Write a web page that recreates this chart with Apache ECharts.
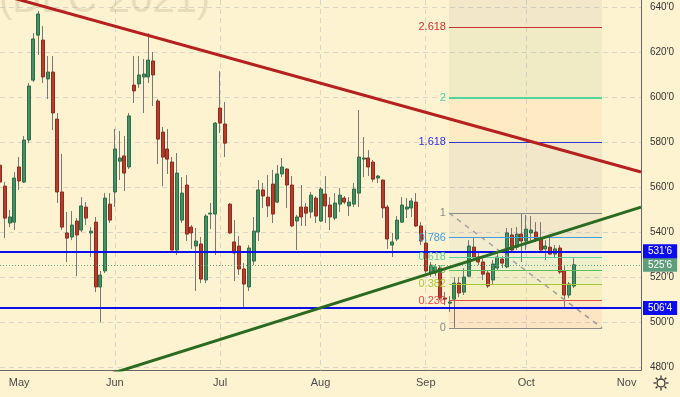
<!DOCTYPE html>
<html><head><meta charset="utf-8">
<script src="https://cdn.jsdelivr.net/npm/echarts@6/dist/echarts.min.js"></script>
<style>html,body{margin:0;padding:0;background:#fef3d0}#c{width:680px;height:397px}</style>
</head><body><div id="c"></div>
<script>
// ---- categories (trading days) ----
const startDate = '2021-04-27';
const holidays = ['2021-05-31', '2021-07-05', '2021-09-06'];
const totalBars = 135;
const monthNames = ['Jan','Feb','Mar','Apr','May','Jun','Jul','Aug','Sep','Oct','Nov','Dec'];

// ---- OHLC (cents/bushel) ----
const opens = [570,560.7,544.3,544.7,569.2,562.5,581.2,607.8,627.8,625.6,608.3,611.4,590.5,558.1,539.9,538.1,545.2,541.2,551.4,539.9,
544.7,515.9,523.0,552.7,558.1,571.8,574.1,569.2,605.6,606.1,609.2,609.2,616.3,598.5,584.7,577.2,571.4,532.3,545.6,561.2,
542.5,534.1,535.0,519.0,548.3,548.3,595.4,588.3,552.7,535.9,534.1,523.9,515.9,527.4,540.3,559.0,555.8,561.6,553.6,566.1,
568.3,561.2,545.2,551.4,551.4,549.2,555.4,545.2,557.2,552.3,546.5,552.7,555.4,551.9,552.7,557.6,572.7,573.2,571.4,564.3,
563.4,551.4,534.5,537.2,544.7,550.5,551.0,553.6,543.0,535.4,522.1,522.1,524.3,511.0,508.7,510.5,517.6,513.6,520.7,533.6,
529.2,527.0,522.1,519.0,524.3,528.3,524.8,539.0,533.6,539.4,536.3,539.9,540.3,537.2,532.8,533.6,530.5,533.2,523.0,512.3,516.3];
const highs = [573,562.5,550.1,567.0,573.6,583.0,606.5,628.7,638.5,631.8,618.5,618.5,593.2,575.0,549.2,549.6,546.5,555.8,553.6,542.5,
547.0,523.0,557.6,557.6,586.1,585.2,583.0,593.2,618.5,618.5,617.2,628.7,620.3,599.4,587.0,586.1,573.6,575.4,564.7,565.6,
543.4,542.1,538.1,548.3,553.2,589.2,611.8,598.1,553.2,545.6,538.5,526.5,534.5,547.0,563.4,562.1,565.6,567.9,570.1,573.2,
568.7,565.2,547.9,561.2,553.2,558.1,556.3,560.3,565.2,555.8,557.6,559.9,556.3,555.8,562.1,594.5,582.5,576.7,572.3,565.6,
563.6,552.3,539.9,547.4,555.8,555.4,555.4,557.6,544.7,541.2,527.0,526.1,525.6,513.6,511.9,520.3,520.3,524.3,536.7,537.6,
531.4,528.7,523.4,527.9,530.5,529.6,542.1,542.1,542.5,548.7,547.9,547.4,544.7,544.7,536.7,538.1,534.5,534.5,525.6,518.1,528.7];
const lows = [560,537.6,542.5,541.2,559.0,562.1,579.8,607.0,619.0,606.5,599.4,585.6,553.2,541.2,527.0,536.7,520.7,540.3,543.4,529.2,
513.6,500.3,522.1,544.3,551.4,563.4,558.5,568.3,597.6,604.3,593.2,606.5,596.3,570.5,560.7,566.1,532.3,530.1,544.3,536.3,
532.8,514.1,517.6,517.6,541.6,530.1,584.3,573.6,539.5,518.5,521.2,507.0,514.1,525.6,536.3,551.0,547.0,544.3,553.2,564.7,
551.0,542.5,532.3,543.0,543.0,546.5,544.3,544.7,544.3,541.2,545.6,549.2,552.7,547.4,551.4,551.4,564.7,565.2,562.5,562.1,
546.5,532.8,529.2,536.3,544.3,546.5,547.0,542.5,534.5,522.1,520.3,520.7,510.1,507.9,504.8,497.8,511.4,512.3,520.3,527.9,
525.6,519.0,515.4,517.2,523.0,524.3,524.3,531.4,532.3,527.0,532.3,536.7,535.9,531.4,527.9,530.1,528.7,521.6,507.0,511.0,515.4];
const closes = [562.5,546.5,547.0,564.3,563.0,581.2,605.2,626.1,637.2,609.2,611.4,593.2,558.1,542.5,537.6,543.4,539.0,551.9,546.5,540.7,
515.9,521.2,555.4,545.6,577.2,573.2,566.5,591.9,603.0,610.1,610.5,616.7,610.1,581.6,573.6,572.7,532.3,566.5,557.6,539.4,
539.9,536.3,519.4,547.4,548.7,588.7,588.7,579.8,539.9,531.0,523.9,517.2,533.2,540.7,559.0,556.3,551.9,548.3,566.1,569.2,
561.2,543.0,547.0,547.0,548.7,556.7,547.4,559.4,551.9,547.0,553.2,556.7,553.6,553.6,559.4,573.6,573.2,569.2,563.8,565.2,
551.0,537.2,535.9,545.6,552.3,551.4,554.1,543.0,536.3,523.0,525.6,524.8,511.0,510.5,509.2,517.6,513.2,520.3,534.1,529.2,
527.0,521.6,516.3,526.1,529.2,526.5,539.9,532.3,539.4,536.3,541.6,541.2,537.2,532.3,534.1,530.5,532.8,522.5,512.3,517.2,525.75];

// ---- drawings ----
const supportResistance = [531.75, 506.5];
const fibRatios = [0, 0.236, 0.382, 0.5, 0.618, 0.786, 1, 1.618, 2, 2.618, 3.618];
const fibLow = 497.75, fibHigh = 548.75;
const fibStartBar = 93.86, fibEndBar = 125.85;
const fibLineColors = ['#8a8a8a','#e04848','#a8c83a','#5cbf5c','#5ad0a0','#3f9ee0','#8a8a8a','#3030d8','#4fd69c','#c83232','#8a8a8a'];
const fibFills = ['rgba(245,110,90,0.10)','rgba(190,205,60,0.10)','rgba(90,190,90,0.09)','rgba(80,200,150,0.09)','rgba(70,150,210,0.06)',
  'rgba(120,123,134,0.09)','rgba(120,123,134,0.09)','rgba(255,150,70,0.09)','rgba(110,150,90,0.09)','rgba(120,123,134,0.09)'];
const resistanceLine = [[0, 645.9], [134, 567.0]];
const supportLine = [[20.9, 475.8], [134, 551.4]];
const yTicksMin = 479, yTicksMax = 643.4;

function tradingDays(start, n, hol) {
  const out = []; const d = new Date(start + 'T00:00:00Z');
  while (out.length < n) {
    const wd = d.getUTCDay(); const s = d.toISOString().slice(0, 10);
    if (wd !== 0 && wd !== 6 && !hol.includes(s)) out.push(s);
    d.setUTCDate(d.getUTCDate() + 1);
  }
  return out;
}
const dates = tradingDays(startDate, totalBars, holidays);
const isMonthStart = i => i > 0 && dates[i].slice(5, 7) !== dates[i - 1].slice(5, 7);
function fmt(v) { const w = Math.floor(v + 1e-9); const e = Math.round((v - w) * 8); return w + "'" + e; }

const wickData = opens.map((o, i) => [o, closes[i], lows[i], highs[i]]);
const bodyData = opens.map((o, i) => [o, closes[i], Math.min(o, closes[i]), Math.max(o, closes[i])]);
const lastClose = closes[closes.length - 1];
const fibVal = r => fibLow + r * (fibHigh - fibLow);

const FONT = '"Liberation Sans", Arial, sans-serif';

const fibAreas = [];
for (let k = 0; k < fibRatios.length - 1; k++) {
  fibAreas.push([{ coord: [fibStartBar, fibVal(fibRatios[k + 1])], itemStyle: { color: fibFills[k] } },
                 { coord: [fibEndBar, fibVal(fibRatios[k])] }]);
}
const fibLines = [];
for (let k = 0; k < fibRatios.length - 1; k++) {
  const v = fibVal(fibRatios[k]);
  fibLines.push([{ coord: [fibStartBar, v], lineStyle: { color: fibLineColors[k], width: (fibRatios[k] === 2) ? 2 : 1.2, type: 'solid' },
    label: { show: true, position: 'start', distance: 3, formatter: String(fibRatios[k]), color: fibLineColors[k], fontSize: 11, fontFamily: FONT } },
    { coord: [fibEndBar, v] }]);
}
fibLines.push([{ coord: [fibStartBar, fibHigh], lineStyle: { color: '#9a9a9a', width: 1.5, type: [5, 5] }, label: { show: false } },
  { coord: [fibEndBar, fibLow] }]);

const chart = echarts.init(document.getElementById('c'), null, { renderer: 'canvas' });
const gear = [];
for (let a = 0; a < 8; a++) {
  const t = a * Math.PI / 4;
  gear.push({ type: 'line', shape: { x1: 661 + 5 * Math.cos(t), y1: 383 + 5 * Math.sin(t), x2: 661 + 7.5 * Math.cos(t), y2: 383 + 7.5 * Math.sin(t) }, style: { stroke: '#333', lineWidth: 1.3 } });
}
chart.setOption({
  animation: false,
  backgroundColor: '#fef3d0',
  grid: { left: 0, right: 39, top: 0, bottom: 27 },
  xAxis: [{
    type: 'category', data: dates, boundaryGap: false,
    axisLine: { show: true, onZero: false, lineStyle: { color: '#666', width: 1 } },
    axisTick: { show: false },
    axisLabel: { interval: (i) => isMonthStart(i), formatter: (v) => monthNames[+v.slice(5, 7) - 1], color: '#4a4a4a', fontSize: 11, fontFamily: FONT, margin: 7 },
    splitLine: { show: true, showMinLine: false, showMaxLine: false, interval: (i) => isMonthStart(i), lineStyle: { color: 'rgba(150,160,190,0.35)', type: [5, 4] } }
  }, {
    type: 'value', min: 0, max: totalBars - 1, show: false, axisLine: { onZero: false }
  }],
  yAxis: {
    type: 'value', position: 'right', min: yTicksMin, max: yTicksMax, splitNumber: 8,
    axisLine: { show: true, onZero: false, lineStyle: { color: '#666' } },
    axisTick: { show: false },
    axisLabel: { showMinLabel: false, showMaxLabel: false, formatter: v => fmt(v), color: '#333', fontSize: 10, fontFamily: FONT, margin: 9 },
    splitLine: { show: true, showMinLine: false, showMaxLine: false, lineStyle: { color: 'rgba(150,160,190,0.35)', type: [5, 4] } }
  },
  graphic: [
    { type: 'text', x: -1, y: -19, z: 0, silent: true, style: { text: '(DEC 2021)', font: '40px ' + FONT, fill: 'rgba(120,110,85,0.17)', textVerticalAlign: 'top' } },
    { type: 'circle', shape: { cx: 661, cy: 383, r: 4 }, style: { fill: 'none', stroke: '#333', lineWidth: 1.3 } },
    ...gear
  ],
  series: [
    { name: 'fibFill', type: 'line', xAxisIndex: 1, z: 1, data: [[fibStartBar, fibLow]], showSymbol: false, lineStyle: { width: 0 },
      markArea: { silent: true, data: fibAreas } },
    { name: 'wick', type: 'candlestick', xAxisIndex: 0, z: 3, data: wickData, barWidth: 1,
      itemStyle: { color: '#777', color0: '#777', borderColor: '#777', borderColor0: '#777', borderWidth: 1 } },
    { name: 'body', type: 'candlestick', xAxisIndex: 0, z: 4, data: bodyData, barWidth: 3.5,
      itemStyle: { color: '#448f64', color0: '#b83c2c', borderColor: '#2f6c48', borderColor0: '#8c2c20', borderWidth: 1 } },
    { name: 'fibLines', type: 'line', xAxisIndex: 1, z: 5, data: [[fibStartBar, fibLow]], showSymbol: false, lineStyle: { width: 0 },
      markLine: { silent: true, symbol: ['none', 'none'], data: fibLines } },
    { name: 'resistance', type: 'line', xAxisIndex: 1, z: 6, data: resistanceLine, showSymbol: false, lineStyle: { color: '#b52020', width: 3 } },
    { name: 'support', type: 'line', xAxisIndex: 1, z: 6, data: supportLine, showSymbol: false, lineStyle: { color: '#2a6a22', width: 3 } },
    { name: 'levels', type: 'line', xAxisIndex: 1, z: 7, clip: false, data: [], showSymbol: false,
      markLine: { silent: true, symbol: ['none', 'none'], data: [
        { yAxis: lastClose, lineStyle: { color: '#5e9e7c', width: 1, type: [1, 2] },
          label: { show: true, position: 'end', distance: 2, formatter: fmt(lastClose), color: '#fff', backgroundColor: '#5e9e7c', padding: [2, 5, 2, 5], fontSize: 10, fontFamily: FONT } },
        ...supportResistance.map(v => ({ yAxis: v, lineStyle: { color: '#0c0cf0', width: 2, type: 'solid' },
          label: { show: true, position: 'end', distance: 2, formatter: fmt(v), color: '#fff', backgroundColor: '#0c0cf0', padding: [2, 5, 2, 5], fontSize: 10, fontFamily: FONT } }))
      ] } }
  ]
});
</script></body></html>
